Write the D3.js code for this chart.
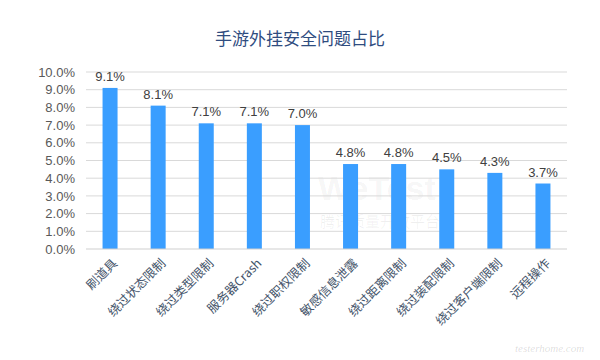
<!DOCTYPE html>
<html>
<head>
<meta charset="utf-8">
<script src="https://cdn.jsdelivr.net/npm/d3@7"></script>
<style>
  body { margin: 0; background: #fff; }
  svg { font-family: "Microsoft YaHei", "Noto Sans CJK SC", sans-serif; }
</style>
</head>
<body>
<svg id="grafico" width="600" height="360"></svg>
<script>
const categorias = ['刷道具', '绕过状态限制', '绕过类型限制', '服务器Crash', '绕过职权限制',
    '敏感信息泄露', '绕过距离限制', '绕过装配限制', '绕过客户端限制', '远程操作'];
const valores = [9.1, 8.1, 7.1, 7.1, 7.0, 4.8, 4.8, 4.5, 4.3, 3.7];
const ticks_y = [0, 1, 2, 3, 4, 5, 6, 7, 8, 9, 10];

const margen = {top: 72, left: 86, right: 33, bottom: 111};
const ancho = 600, alto = 360;

const svg = d3.select('#grafico');

const escalaX = d3.scaleBand()
    .domain(categorias)
    .range([margen.left, ancho - margen.right]);

const escalaY = d3.scaleLinear()
    .domain([0, 10])
    .range([alto - margen.bottom, margen.top]);

// marca de agua (muy tenue, detrás de todo)
svg.append('text')
    .attr('x', 318).attr('y', 200)
    .attr('font-size', 34).attr('font-weight', 'bold')
    .attr('font-family', 'Arial, sans-serif')
    .attr('fill', '#000').attr('fill-opacity', 0.05)
    .text('WeTest');
svg.append('text')
    .attr('x', 320).attr('y', 227)
    .attr('font-size', 15)
    .attr('fill', '#000').attr('fill-opacity', 0.06)
    .text('腾讯质量开放平台');

// rejilla
svg.append('g')
    .selectAll('line')
    .data(ticks_y.slice(1))
    .join('line')
    .attr('x1', margen.left)
    .attr('x2', ancho - margen.right)
    .attr('y1', d => escalaY(d))
    .attr('y2', d => escalaY(d))
    .attr('stroke', '#d9d9d9')
    .attr('stroke-width', 1);

// eje Y
const ejeY = d3.axisLeft(escalaY)
    .tickValues(ticks_y)
    .tickSize(0)
    .tickPadding(11)
    .tickFormat(d => d.toFixed(1) + '%');

const contY = svg.append('g')
    .attr('transform', `translate(${margen.left},0)`)
    .call(ejeY);
contY.select('.domain').remove();
contY.selectAll('text')
    .attr('font-size', 13)
    .attr('font-family', 'Arial, "Liberation Sans", sans-serif')
    .attr('fill', '#595959');

// barras
const ancho_barra = 15;
svg.append('g')
    .selectAll('rect')
    .data(valores)
    .join('rect')
    .attr('x', (d, i) => escalaX(categorias[i]) + escalaX.bandwidth() / 2 - ancho_barra / 2)
    .attr('y', d => escalaY(d))
    .attr('width', ancho_barra)
    .attr('height', d => escalaY(0) - escalaY(d))
    .attr('fill', '#3A9EFF');

// etiquetas de valor
svg.append('g')
    .selectAll('text')
    .data(valores)
    .join('text')
    .attr('x', (d, i) => escalaX(categorias[i]) + escalaX.bandwidth() / 2)
    .attr('y', d => escalaY(d) - 7)
    .attr('text-anchor', 'middle')
    .attr('font-size', 13)
    .attr('font-family', 'Arial, "Liberation Sans", sans-serif')
    .attr('fill', '#404040')
    .text(d => d.toFixed(1) + '%');

// eje X
svg.append('line')
    .attr('x1', margen.left)
    .attr('x2', ancho - margen.right)
    .attr('y1', escalaY(0))
    .attr('y2', escalaY(0))
    .attr('stroke', '#cfcfcf');

svg.append('g')
    .selectAll('text')
    .data(categorias)
    .join('text')
    .attr('transform', d => `translate(${escalaX(d) + escalaX.bandwidth() / 2 + 5},${escalaY(0) + 12}) rotate(-45)`)
    .attr('text-anchor', 'end')
    .attr('dy', '0.35em')
    .attr('font-size', 12.5)
    .attr('fill', '#44546A')
    .text(d => d);

// título
svg.append('text')
    .attr('x', 300)
    .attr('y', 45)
    .attr('text-anchor', 'middle')
    .attr('font-size', 17)
    .attr('fill', '#2F4C7F')
    .text('手游外挂安全问题占比');

svg.append('text')
    .attr('x', 515).attr('y', 352)
    .attr('font-size', 11)
    .attr('font-style', 'italic')
    .attr('font-family', 'serif')
    .attr('fill', '#000').attr('fill-opacity', 0.15)
    .text('testerhome.com');
</script>
</body>
</html>
